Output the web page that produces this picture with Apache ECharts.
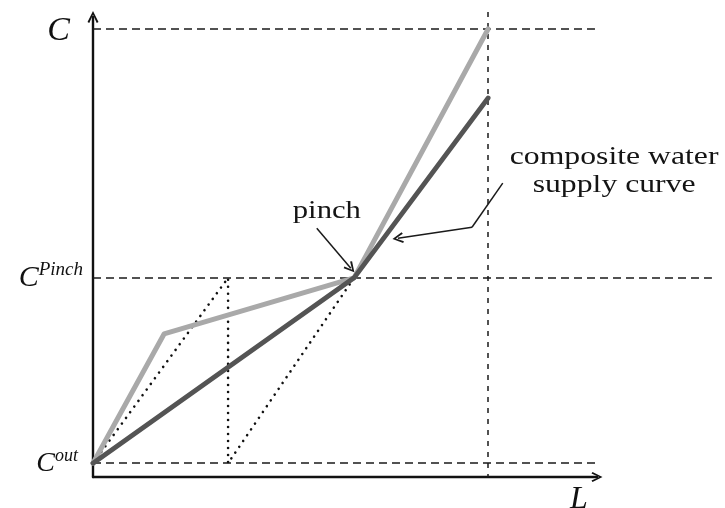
<!DOCTYPE html>
<html>
<head>
<meta charset="utf-8">
<script src="https://cdn.jsdelivr.net/npm/echarts@6/dist/echarts.min.js"></script>
<style>
  html, body { margin: 0; padding: 0; background: #ffffff; }
  #main { width: 725px; height: 508px; }
</style>
</head>
<body>
<div id="main"></div>
<script>
// Concentration levels on the C axis
const levelOut = 3.0;
const levelPinch = 43.3;
const levelTop = 97.4;
// Flow-rate positions on the L axis
const lPinch = 51.8;
const lMax = 78.4;

// Composite curves: [L, C]
const demandCurve = [[0, levelOut], [14.1, 31.1], [lPinch, levelPinch], [lMax, levelTop]];
const supplyCurve = [[0, levelOut], [lPinch, levelPinch], [lMax, 82.4]];
// Dotted construction lines
const dottedPath = [[0, levelOut], [26.8, levelPinch], [26.8, levelOut], [lPinch, levelPinch]];

// Dashed guide lines
const guideTop = [[0, levelTop], [99.6, levelTop]];
const guidePinch = [[0, levelPinch], [122.8, levelPinch]];
const guideOut = [[0, levelOut], [100, levelOut]];
const guideL = [[lMax, 101.1], [lMax, 0]];

// Tick labels
const yTickValues = [levelOut, levelPinch, levelTop];
const yTickLabels = [['C', 'out'], ['C', 'Pinch'], ['C', '']];
const xTickValues = [96.4];
const xTickLabels = ['L'];

// Annotation leaders
const pinchLeader = [[44.4, 54.1], [51.15, 45.4]];
const supplyLeaderBend = [[81.3, 63.9], [75.2, 54.3]];
const supplyLeaderEnd = [[75.2, 54.3], [60.5, 51.9]];
const pinchTextAt = [46.4, 57.8];
const supplyTextAt = [103.4, 66.4];
const annotationTexts = ['pinch', 'composite water\nsupply curve'];

const SERIF = '"Liberation Serif", "Times New Roman", serif';
const ARROW = 'path://M5,0L10,10L8.4,11L5,3.4L1.6,11L0,10Z';

const chart = echarts.init(document.getElementById('main'), null, { renderer: 'canvas' });

function dashedLines(segments, dash, width) {
  return {
    type: 'lines', coordinateSystem: 'cartesian2d', silent: true, z: 1, clip: false,
    symbol: ['none', 'none'],
    lineStyle: { color: '#1a1a1a', width: width, type: dash, opacity: 1, curveness: 0 },
    data: segments.map(function (s) { return { coords: s }; })
  };
}

const option = {
  animation: false,
  backgroundColor: '#ffffff',
  grid: { left: 93, right: 128, top: 17, bottom: 31, containLabel: false, outerBoundsMode: 'none' },
  xAxis: {
    type: 'value', min: 0, max: 100,
    splitLine: { show: false }, axisTick: { show: false },
    axisLine: { show: true, lineStyle: { color: '#111', width: 2.4 }, symbol: ['none', ARROW], symbolSize: [10, 12] },
    axisLabel: {
      customValues: xTickValues, margin: 7,
      formatter: function (v) {
        let k = 0; xTickValues.forEach(function (t, i) { if (Math.abs(t - v) < Math.abs(xTickValues[k] - v)) k = i; });
        return xTickLabels[k];
      },
      fontFamily: SERIF, fontStyle: 'italic', fontSize: 32, color: '#111'
    }
  },
  yAxis: {
    type: 'value', min: 0, max: 100,
    splitLine: { show: false }, axisTick: { show: false },
    axisLine: { show: true, lineStyle: { color: '#111', width: 2.4 }, symbol: ['none', ARROW], symbolSize: [11, 13] },
    axisLabel: {
      customValues: yTickValues, margin: 10,
      formatter: function (v) {
        let k = 0; yTickValues.forEach(function (t, i) { if (Math.abs(t - v) < Math.abs(yTickValues[k] - v)) k = i; });
        const parts = yTickLabels[k];
        if (k === 2) return '{top|' + parts[0] + '}';
        if (k === 1) return '{cp|' + parts[0] + '}{sp|' + parts[1] + '}';
        return '{co|' + parts[0] + '}{so|' + parts[1] + '}';
      },
      rich: {
        top: { fontFamily: SERIF, fontStyle: 'italic', fontSize: 34, color: '#111', padding: [5, 13, 0, 0] },
        cp: { fontFamily: SERIF, fontStyle: 'italic', fontSize: 30, lineHeight: 34, color: '#111' },
        sp: { fontFamily: SERIF, fontStyle: 'italic', fontSize: 19, lineHeight: 20, verticalAlign: 'top', color: '#111' },
        co: { fontFamily: SERIF, fontStyle: 'italic', fontSize: 28, lineHeight: 32, color: '#111' },
        so: { fontFamily: SERIF, fontStyle: 'italic', fontSize: 18, lineHeight: 20, verticalAlign: 'top', color: '#111', padding: [0, 5, 0, 0] }
      }
    }
  },
  series: [
    dashedLines([guideTop, guidePinch, guideOut], [8, 5], 1.6),
    dashedLines([guideL], [5, 6], 1.5),
    {
      type: 'line', data: dottedPath, showSymbol: false, symbol: 'none', silent: true, clip: false,
      lineStyle: { color: '#111', width: 2.6, type: [0.01, 7], cap: 'round' }, z: 2
    },
    {
      type: 'line', data: demandCurve, showSymbol: false, symbol: 'none', silent: true, clip: false,
      lineStyle: { color: '#a9a9a9', width: 5, join: 'round', cap: 'round' }, z: 3
    },
    {
      type: 'line', data: supplyCurve, showSymbol: false, symbol: 'none', silent: true, clip: false,
      lineStyle: { color: '#545454', width: 4.8, join: 'round', cap: 'round' }, z: 4
    },
    {
      type: 'lines', coordinateSystem: 'cartesian2d', silent: true, z: 5, clip: false,
      symbol: ['none', 'none'],
      lineStyle: { color: '#1a1a1a', width: 1.5, opacity: 1, curveness: 0 },
      data: [{ coords: supplyLeaderBend }]
    },
    {
      type: 'lines', coordinateSystem: 'cartesian2d', silent: true, z: 5, clip: false,
      symbol: ['none', ARROW], symbolSize: [9, 11],
      lineStyle: { color: '#1a1a1a', width: 1.5, opacity: 1, curveness: 0 },
      data: [{ coords: pinchLeader }, { coords: supplyLeaderEnd }]
    }
  ]
};

chart.setOption(option);

// Annotation text anchored to data coordinates
const p1 = chart.convertToPixel({ gridIndex: 0 }, pinchTextAt);
const p2 = chart.convertToPixel({ gridIndex: 0 }, supplyTextAt);
const textStyle = function (txt) {
  return {
    text: txt, fontFamily: SERIF, fontSize: 26, lineHeight: 28, fill: '#141414',
    align: 'center', verticalAlign: 'middle', textAlign: 'center', textVerticalAlign: 'middle'
  };
};
chart.setOption({
  graphic: [
    { type: 'text', x: p1[0], y: p1[1], scaleX: 1.18, silent: true, z: 10, style: textStyle(annotationTexts[0]) },
    { type: 'text', x: p2[0], y: p2[1], scaleX: 1.22, silent: true, z: 10, style: textStyle(annotationTexts[1]) }
  ]
});
</script>
</body>
</html>
